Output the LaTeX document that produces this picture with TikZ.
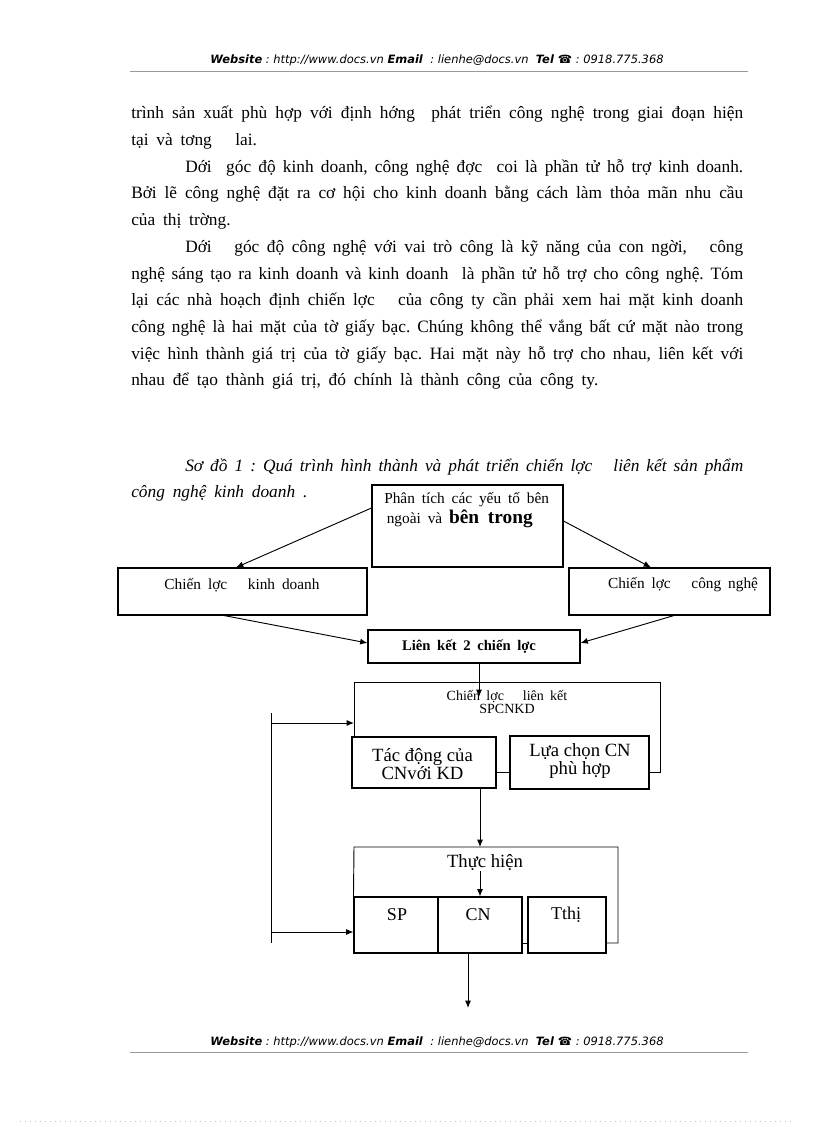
\documentclass[tikz,border=0pt]{standalone}
\usepackage{fontspec}
\setmainfont{Liberation Serif}[WordSpace={1.8,1.5,2.2}]
\newfontfamily\hdrfont{DejaVu Sans}[BoldFont={DejaVu Sans Bold},ItalicFont={DejaVu Sans Oblique},BoldItalicFont={DejaVu Sans Bold Oblique}]
\newfontfamily\boxfont{Liberation Serif}
\usetikzlibrary{arrows.meta,calc}
\frenchspacing
\begin{document}
\begin{tikzpicture}[x=0.75pt,y=-0.75pt,
  box/.style={draw, line width=0.8pt, inner sep=0, rectangle},
  arr/.style={-{Latex[length=5.5pt,width=4.5pt]}, line width=0.7pt},
  ln/.style={line width=0.7pt},
  body/.style={anchor=base west, inner sep=0, font=\fontsize{13}{20}\selectfont},
  captxt/.style={anchor=base west, inner sep=0, font=\fontsize{13}{20}\selectfont\itshape},
  hdr/.style={anchor=base, inner sep=0, font=\hdrfont\fontsize{8.6}{10}\selectfont},
  lbl/.style={inner sep=0, align=center},
  rulel/.style={draw=gray!80, line width=0.6pt},
]
\useasboundingbox (0,0) rectangle (816,1123);
\fill[white] (0,0) rectangle (816,1123);

% header
\node[hdr] (hdr) at (437,64) {\textbf{\textit{Website}}\textit{ : http://www.docs.vn }\textbf{\textit{Email}}\textit{ \ : lienhe@docs.vn \ }\textbf{\textit{Tel ☎}}\textit{ : 0918.775.368}};
\draw[rulel] (130,71) -- (748,71);

% body text
\node[body] (t1) at (131,119) {\makebox[459pt][s]{trình sản xuất phù hợp với định hớng\ \ phát triển công nghệ trong giai đoạn hiện}};
\node[body] (t2) at (131,145.7) {tại và tơng\ \ \ lai.};
\node[body] (t3) at (185,172.3) {\makebox[418.5pt][s]{Dới\ \ góc độ kinh doanh, công nghệ đợc\ \ coi là phần tử\ hỗ trợ kinh doanh.}};
\node[body] (t4) at (131,199) {\makebox[459pt][s]{Bởi lẽ công nghệ đặt ra cơ hội cho kinh doanh bằng cách làm thỏa mãn nhu cầu}};
\node[body] (t5) at (131,225.6) {của thị trờng.};
\node[body] (t6) at (185,252.3) {\makebox[418.5pt][s]{Dới\ \ \ góc độ công nghệ với vai trò công là kỹ năng của con ngời,\ \ \ công}};
\node[body] (t7) at (131,279) {\makebox[459pt][s]{nghệ sáng tạo ra kinh doanh và kinh doanh\ \ là phần tử hỗ trợ cho công nghệ. Tóm}};
\node[body] (t8) at (131,305.6) {\makebox[459pt][s]{lại các nhà hoạch định chiến lợc\ \ \ của công ty cần phải xem hai mặt kinh doanh}};
\node[body] (t9) at (131,332.3) {\makebox[459pt][s]{công nghệ là hai mặt của tờ giấy bạc. Chúng không thể vắng bất cứ mặt nào trong}};
\node[body] (t10) at (131,359) {\makebox[459pt][s]{việc hình thành giá trị của tờ giấy bạc. Hai mặt này hỗ trợ cho nhau, liên kết với}};
\node[body] (t11) at (131,385.6) {nhau để tạo thành giá trị, đó chính là thành công của công ty.};

% caption
\node[captxt] (c1) at (185,471) {\makebox[418.5pt][s]{Sơ đồ 1 : Quá trình hình thành và phát triển chiến lợc\ \ \ liên kết sản phẩm}};
\node[captxt] (c2) at (131,497) {công nghệ kinh doanh .};

% boxes
\node[box, minimum width=143.25pt, minimum height=61.5pt] (top) at (467.5,526) {};
\node[box, minimum width=186.75pt, minimum height=35.25pt] (kd) at (242.5,591.5) {};
\node[box, minimum width=150.75pt, minimum height=35.25pt] (cn) at (669.5,591.5) {};
\node[box, minimum width=159pt, minimum height=24.75pt] (lk) at (474,646.5) {};
\node[box, minimum width=108pt, minimum height=38.25pt] (td) at (424,762.5) {};
\node[box, minimum width=104.25pt, minimum height=39.75pt] (lc) at (579.5,762.5) {};
\node[box, minimum width=63pt, minimum height=42pt] (sp) at (396,925) {};
\node[box, minimum width=63pt, minimum height=42pt] (cnb) at (480,925) {};
\node[box, minimum width=58.5pt, minimum height=42pt] (tt) at (567,925) {};

% labels
\node[lbl, align=left, anchor=west, font=\fontsize{11.5}{12}\selectfont] (toptxt) at (384,510) {Phân tích các yếu tố bên\\[1pt]\,ngoài và {\fontsize{14.5}{12}\selectfont\bfseries bên trong}};
\node[lbl, font=\fontsize{11.5}{12}\selectfont] (kdtxt) at (242,585) {Chiến lợc\ \ \ kinh doanh};
\node[lbl, font=\fontsize{11.5}{12}\selectfont] (cntxt) at (683,585) {Chiến lợc\ \ \ công nghệ};
\node[lbl, font=\fontsize{11}{12}\selectfont\bfseries] (lktxt) at (469,647) {Liên kết 2 chiến lợc};
\node[lbl, font=\fontsize{10.5}{10}\selectfont] (frtxt) at (507,702) {Chiến lợc\ \ \ liên kết\\SPCNKD};
\node[lbl, font=\boxfont\fontsize{14}{13.5}\selectfont] (tdtxt) at (422.5,764) {Tác động của\\CNvới KD};
\node[lbl, font=\boxfont\fontsize{14}{13.5}\selectfont] (lctxt) at (580,761) {Lựa chọn CN\\phù hợp};
\node[lbl, font=\boxfont\fontsize{14}{14}\selectfont] (thtxt) at (485,863) {Thực hiện};
\node[lbl, font=\boxfont\fontsize{13.5}{14}\selectfont] (sptxt) at (397,915) {SP};
\node[lbl, font=\boxfont\fontsize{13.5}{14}\selectfont] (cnbtxt) at (478,915) {CN};
\node[lbl, font=\boxfont\fontsize{13.5}{14}\selectfont] (tttxt) at (566,915) {Tthị};

% coordinates
\coordinate (lkin) at (479,697);
\coordinate (fr1) at (354,682);
\coordinate (fr2) at (660,682);
\coordinate (fr3) at (660,772);
\coordinate (th1) at (354,847);
\coordinate (th2) at (618,847);
\coordinate (th3) at (618,943);
\coordinate (fb1) at (271,713);
\coordinate (fb2) at (271,943);
\coordinate (fb3) at (271,723);
\coordinate (fb4) at (271,932);
\coordinate (outend) at (468,1008);

% connectors
\draw[arr] (top.west |- 0,508) -- (236,0 |- kd.north);
\draw[arr] (top.east |- 0,521) -- (651,0 |- cn.north);
\draw[arr] (224,0 |- kd.south) -- (lk.west |- 0,643);
\draw[arr] (674,0 |- cn.south) -- (lk.east |- 0,643);
\draw[arr] (479,0 |- lk.south) -- (lkin);
\draw[ln] (354,0 |- td.north) -- (fr1) -- (fr2) -- (fr3) -- (lc.east |- fr3);
\draw[ln] (td.east |- fr3) -- (lc.west |- fr3);
\draw[arr] (480,0 |- td.south) -- (480,0 |- th1);
\draw[ln] (sp.north west) -- (th1) -- (th2) -- (th3) -- (tt.east |- th3);
\draw[ln] (cnb.east |- th3) -- (tt.west |- th3);
\draw[arr] (480,0 |- thtxt.south) -- (480,0 |- cnb.north);
\draw[arr] (468,0 |- cnb.south) -- (outend);
\draw[ln] (fb1) -- (fb2);
\draw[arr] (fb3) -- (354,0 |- fb3);
\draw[arr] (fb4) -- (sp.west |- fb4);

% footer
\node[hdr] (ftr) at (437,1045) {\textbf{\textit{Website}}\textit{ : http://www.docs.vn }\textbf{\textit{Email}}\textit{ \ : lienhe@docs.vn \ }\textbf{\textit{Tel ☎}}\textit{ : 0918.775.368}};
\draw[rulel] (130,1052) -- (748,1052);
\draw[gray!50, line width=0.4pt, dash pattern=on 0.75pt off 3pt] (20,1121) -- (795,1121);
\end{tikzpicture}
\end{document}
